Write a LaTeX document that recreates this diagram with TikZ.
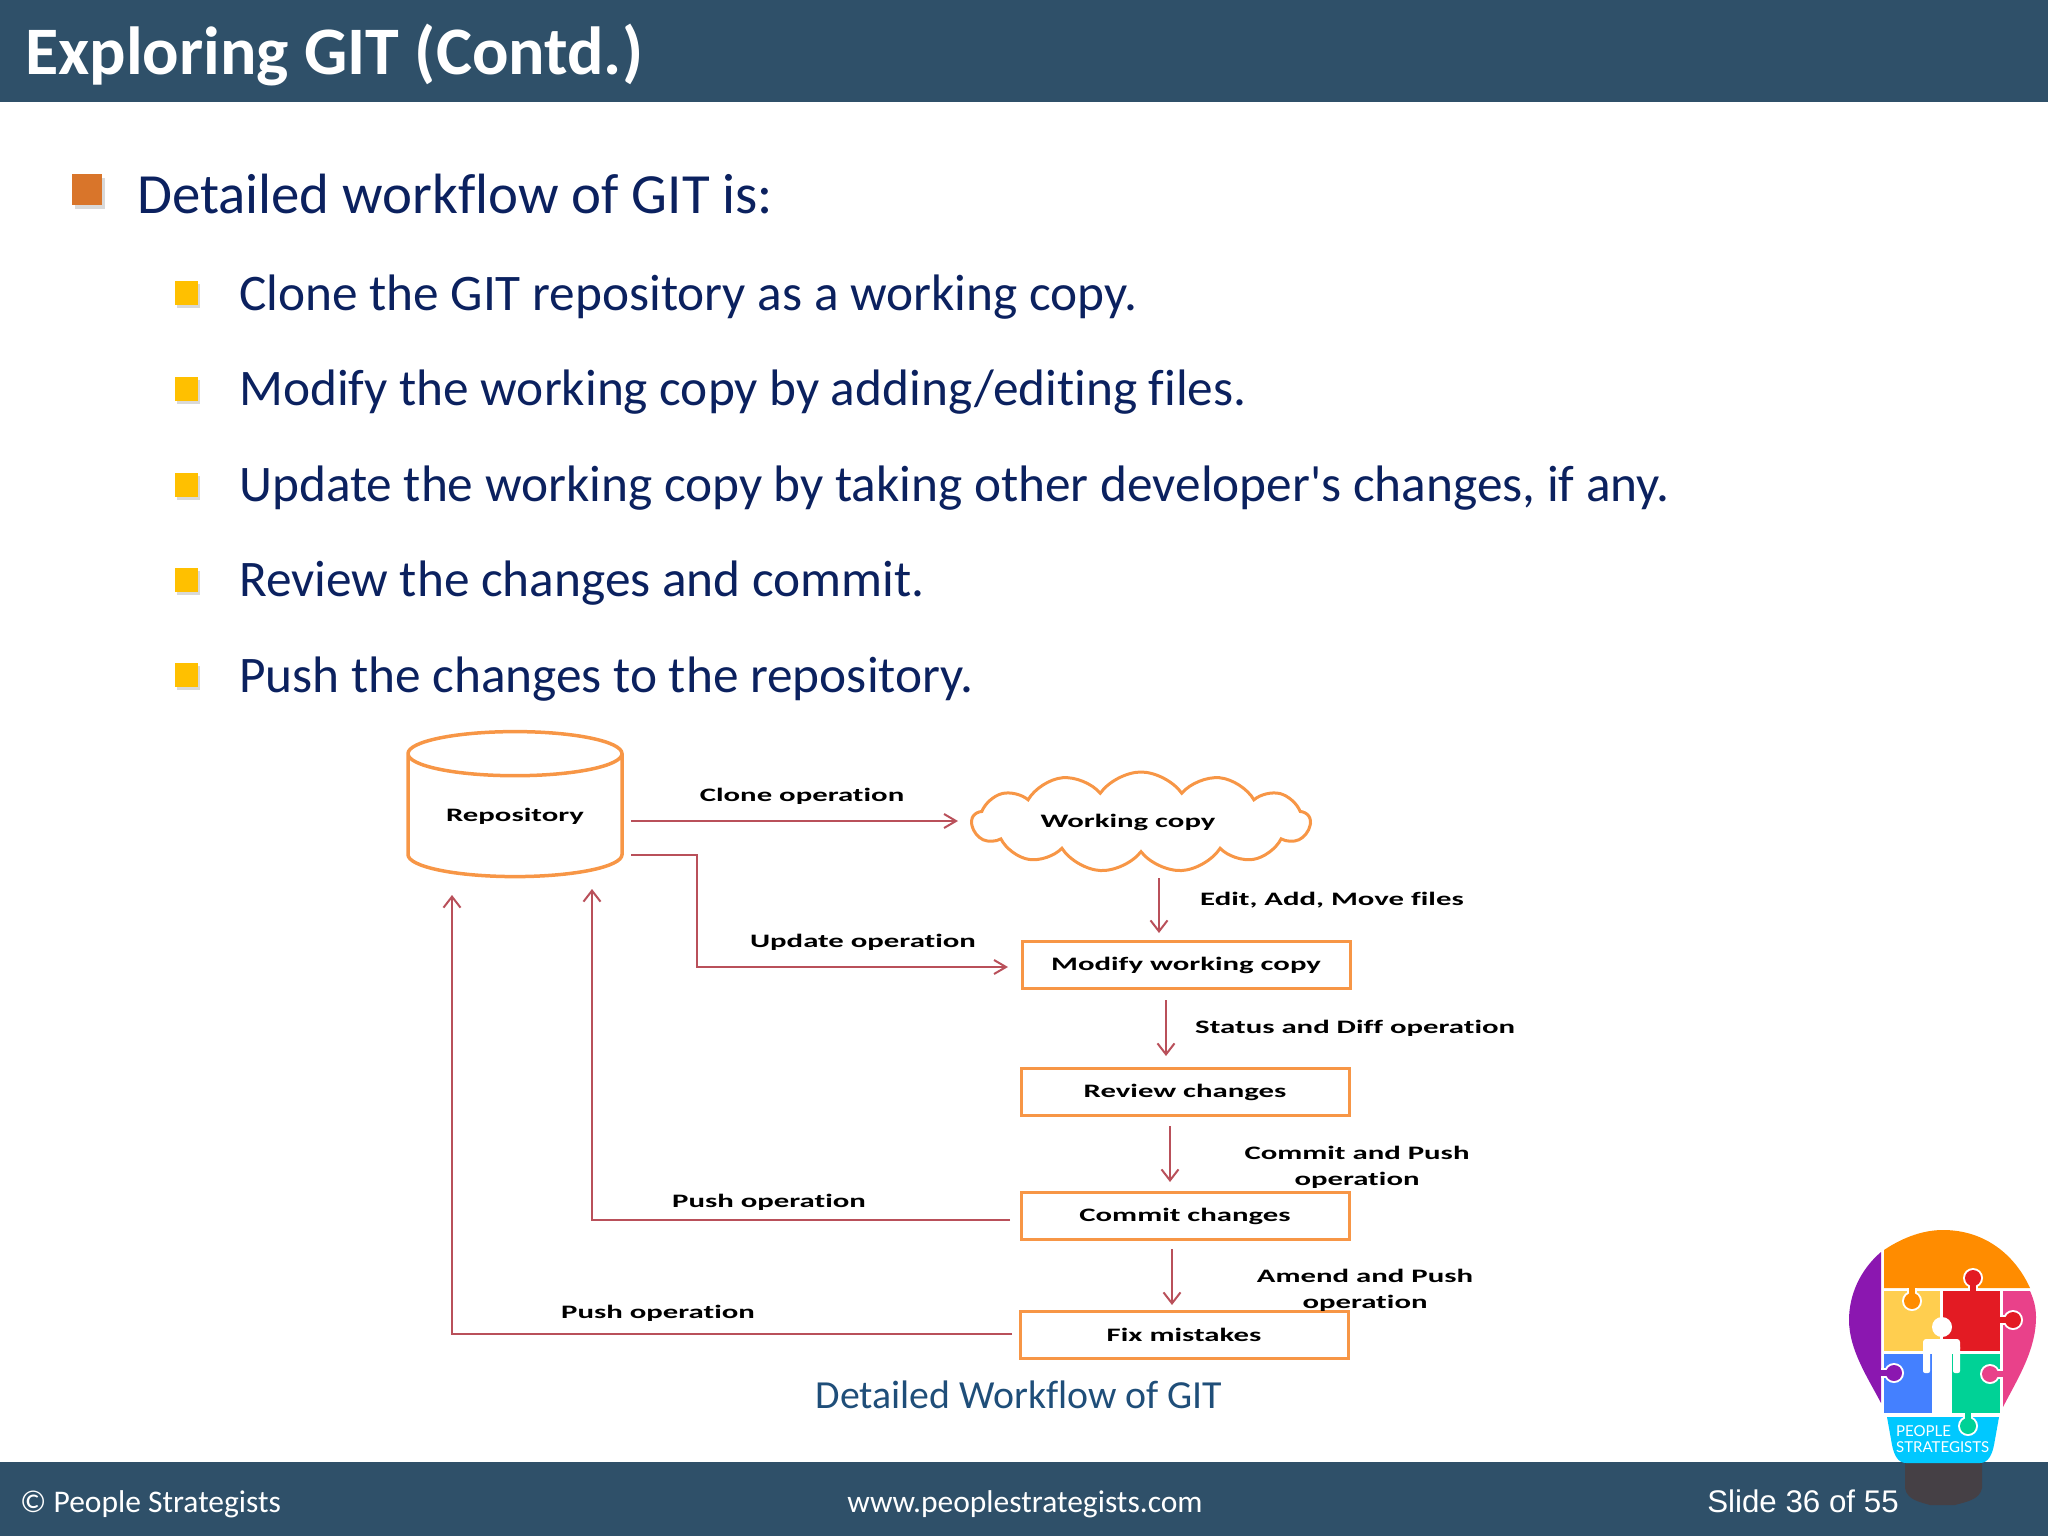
\documentclass[tikz,border=0pt]{standalone}
\usepackage{fontspec}
\usepackage{graphicx}
\setmainfont[Ligatures={TeX,NoCommon}]{Carlito}
\newfontfamily\slidefont{Liberation Sans}
\newfontfamily\logofont{Lato}
\usetikzlibrary{arrows.meta}
\usetikzlibrary{shapes.geometric}
\usetikzlibrary{shapes.symbols}
\usetikzlibrary{shadows}
\definecolor{barblue}{HTML}{2F5069}
\definecolor{navytext}{HTML}{0B215F}
\definecolor{capblue}{HTML}{1F4E79}
\definecolor{boxorange}{HTML}{F79646}
\definecolor{flowred}{HTML}{B9505A}
\definecolor{bulorange}{HTML}{D9752A}
\definecolor{bulyellow}{HTML}{FFC000}
\definecolor{logoorange}{HTML}{FF8C00}
\definecolor{logopurple}{HTML}{8B17B0}
\definecolor{logopink}{HTML}{E9418A}
\definecolor{logoyellow}{HTML}{FFCE4F}
\definecolor{logored}{HTML}{E31B23}
\definecolor{logoblue}{HTML}{4480FF}
\definecolor{logogreen}{HTML}{00D296}
\definecolor{logocyan}{HTML}{00C8FF}
\definecolor{logodark}{HTML}{454045}
\newcommand{\widelbl}[1]{\scalebox{1.62}[1]{#1}}
\newcommand{\logoknob}[4]{
  \begin{scope}[shift={(#1,#2)},rotate=#3]
    \fill[white] (-5,0) rectangle (5,-9);
    \fill[white] (0,-13) circle (10);
    \fill[#4] (-3,3) rectangle (3,-9);
    \fill[#4] (0,-13) circle (8);
  \end{scope}
}
\tikzset{
  mainpt/.style={font=\fontsize{56.8}{57}\selectfont,text=navytext,anchor=base west,inner sep=0pt},
  subpt/.style={font=\fontsize{51.3}{52}\selectfont,text=navytext,anchor=base west,inner sep=0pt},
  mainbul/.style={fill=bulorange,minimum width=30,minimum height=31,inner sep=0pt,drop shadow={shadow xshift=3pt,shadow yshift=-4pt,opacity=.3}},
  subbul/.style={fill=bulyellow,minimum width=23,minimum height=24,inner sep=0pt,drop shadow={shadow xshift=2pt,shadow yshift=-3pt,opacity=.3}},
  flowbox/.style={draw=boxorange,line width=3pt,fill=white,minimum width=328,minimum height=47,inner sep=0pt},
  flowlbl/.style={font=\bfseries\fontsize{19}{26}\selectfont,inner sep=0pt,align=center},
  flowh/.style={color=flowred,line width=2pt,-{Straight Barb[length=12pt,width=14pt]}},
  flowv/.style={color=flowred,line width=2pt,-{Straight Barb[length=11pt,width=17pt]}},
  footlbl/.style={text=white,font=\fontsize{31.5}{32}\selectfont,inner sep=0pt,anchor=base}
}
\begin{document}
\begin{tikzpicture}[x=1pt,y=-1pt]
      \useasboundingbox (0,0) rectangle (2048,1536);
      \fill[barblue] (0,0) rectangle (2048,102);
      \fill[barblue] (0,1462) rectangle (2048,1536);
      \node[text=white,font=\bfseries\fontsize{68}{68}\selectfont,anchor=base west,inner sep=0pt] (title) at (25,75) {Exploring GIT (Contd.)};

      \node[mainbul] (b0) at (87,189) {};
      \node[mainpt] (t0) at (137,213) {Detailed workflow of GIT is:};
      \node[subbul] (b1) at (186,293) {};
      \node[subpt] (t1) at (239,310) {Clone the GIT repository as a working copy.};
      \node[subbul] (b2) at (186,389) {};
      \node[subpt] (t2) at (239,405) {Modify the working copy by adding/editing files.};
      \node[subbul] (b3) at (186,485) {};
      \node[subpt] (t3) at (239,501) {Update the working copy by taking other developer\textquotesingle s changes, if any.};
      \node[subbul] (b4) at (186,580) {};
      \node[subpt] (t4) at (239,596) {Review the changes and commit.};
      \node[subbul] (b5) at (186,675) {};
      \node[subpt] (t5) at (239,692) {Push the changes to the repository.};

      \node[cylinder,shape border rotate=90,aspect=.32,draw=boxorange,line width=3.5pt,minimum width=214,minimum height=145,inner sep=0pt,flowlbl] (repo) at (515,816) {\widelbl{Repository}};
      \node[cloud,cloud puffs=13,cloud puff arc=110,cloud ignores aspect,draw=boxorange,line width=3pt,minimum width=338,minimum height=100,inner sep=0pt,flowlbl] (wcopy) at (1141,822) {\widelbl{Working copy}\hspace*{26pt}};
      \node[flowbox,flowlbl] (modify) at (1186,965) {\widelbl{Modify working copy}};
      \node[flowbox,flowlbl] (review) at (1185,1092) {\widelbl{Review changes}};
      \node[flowbox,flowlbl] (commit) at (1185,1216) {\widelbl{Commit changes}};
      \node[flowbox,flowlbl] (fixm) at (1184,1335) {\widelbl{Fix mistakes}};

      \coordinate (repoa) at (631,821);
      \coordinate (repob) at (631,855);
      \coordinate (repoc) at (592,889);
      \coordinate (repod) at (452,895);
      \coordinate (wcopya) at (958,821);
      \coordinate (wcopyb) at (1159,878);
      \coordinate (modifya) at (1008,967);
      \coordinate (modifyb) at (1159,933);
      \coordinate (modifyc) at (1166,1000);
      \coordinate (reviewa) at (1166,1056);
      \coordinate (reviewb) at (1170,1126);
      \coordinate (commita) at (1170,1182);
      \coordinate (commitb) at (1172,1249);
      \coordinate (commitc) at (1010,1220);
      \coordinate (fixa) at (1172,1305);
      \coordinate (fixb) at (1012,1334);

      \path[flowh] (repoa) edge (wcopya);
      \draw[flowh] (repob) -- (697,855) |- (modifya);
      \path[flowv] (wcopyb) edge (modifyb);
      \path[flowv] (modifyc) edge (reviewa);
      \path[flowv] (reviewb) edge (commita);
      \path[flowv] (commitb) edge (fixa);
      \draw[flowv] (commitc) -| (repoc);
      \draw[flowv] (fixb) -| (repod);

      \node[flowlbl] (lclone) at (802,796) {\widelbl{Clone operation}};
      \node[flowlbl] (lupdate) at (863,942) {\widelbl{Update operation}};
      \node[flowlbl,anchor=west] (ledit) at (1200,900) {\widelbl{Edit, Add, Move files}};
      \node[flowlbl,anchor=west] (lstatus) at (1195,1028) {\widelbl{Status and Diff operation}};
      \node[flowlbl] (lcommit) at (1357,1167) {\widelbl{Commit and Push}\\\widelbl{operation}};
      \node[flowlbl] (lamend) at (1365,1290) {\widelbl{Amend and Push}\\\widelbl{operation}};
      \node[flowlbl] (lpusha) at (769,1202) {\widelbl{Push operation}};
      \node[flowlbl] (lpushb) at (658,1313) {\widelbl{Push operation}};
      \node[text=capblue,font=\fontsize{39.8}{40}\selectfont,inner sep=0pt] (caption) at (1019,1395) {Detailed Workflow of GIT};

      \node[footlbl,anchor=base west] (fleft) at (20,1512) {© People Strategists};
      \node[footlbl] (fmid) at (1025,1512) {www.peoplestrategists.com};
      \node[footlbl,font=\slidefont\fontsize{31.3}{32}\selectfont] (fright) at (1803,1512) {Slide 36 of 55};

      \fill[logodark] (1905,1463) -- (1982,1463) -- (1982,1488) .. controls (1980,1500) and (1965,1502) .. (1955,1505) -- (1930,1505) .. controls (1920,1502) and (1907,1500) .. (1905,1488) -- cycle;
      \fill[logoorange] (1884,1250) .. controls (1905,1236) and (1925,1230) .. (1943,1230) .. controls (1985,1230) and (2015,1255) .. (2030,1288) -- (1884,1288) -- cycle;
      \fill[logopurple] (1881,1252) .. controls (1860,1270) and (1849,1295) .. (1849,1320) .. controls (1849,1350) and (1868,1378) .. (1881,1403) -- cycle;
      \fill[logopink] (2003,1291) -- (2030,1291) .. controls (2034,1300) and (2036,1308) .. (2036,1317) .. controls (2036,1350) and (2018,1378) .. (2003,1407) -- cycle;
      \fill[logoyellow] (1884,1291) rectangle (1940,1351);
      \fill[logored] (1943,1291) rectangle (2000,1351);
      \fill[logoblue] (1884,1354) rectangle (1932,1413);
      \fill[logogreen] (1952,1354) rectangle (2000,1413);
      \fill[logocyan] (1887,1417) -- (1999,1417) -- (1994,1445) .. controls (1992,1455) and (1988,1463) .. (1980,1463) -- (1906,1463) .. controls (1898,1463) and (1894,1455) .. (1892,1445) -- cycle;
      \logoknob{1973}{1291}{0}{logored}
      \logoknob{1912}{1288}{180}{logoorange}
      \logoknob{2000}{1320}{-90}{logored}
      \logoknob{1881}{1373}{-90}{logopurple}
      \logoknob{2003}{1374}{90}{logopink}
      \logoknob{1968}{1413}{180}{logogreen}
      \fill[white] (1942,1327) circle (10);
      \fill[white,rounded corners=3pt] (1923,1339) rectangle (1960,1352);
      \fill[white,rounded corners=2pt] (1923,1345) rectangle (1930,1373);
      \fill[white,rounded corners=2pt] (1953,1345) rectangle (1960,1373);
      \fill[white] (1932,1345) rectangle (1952,1413);
      \node[text=white,font=\logofont\fontsize{15}{16}\selectfont,align=left,anchor=west,inner sep=0pt] (logotxt) at (1896,1439) {PEOPLE\\STRATEGISTS};
    \end{tikzpicture}
\end{document}
